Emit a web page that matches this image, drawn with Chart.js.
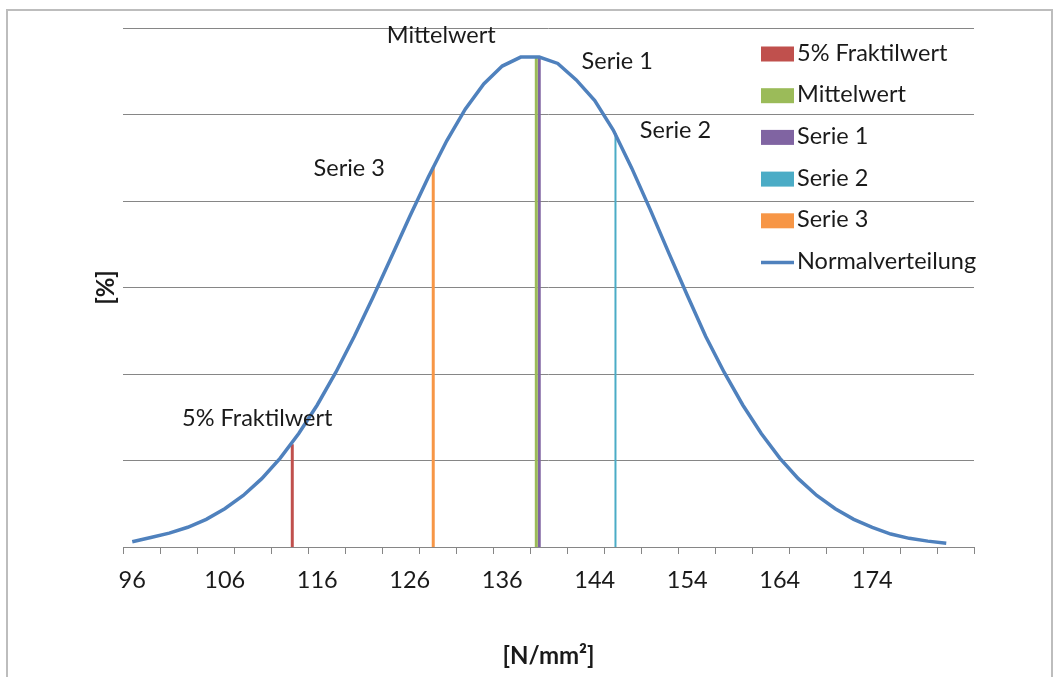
<!DOCTYPE html>
<html>
<head>
<meta charset="utf-8">
<script src="https://cdn.jsdelivr.net/npm/chart.js@4/dist/chart.umd.min.js"></script>
<style>
	html, body { margin: 0; padding: 0; background: #fff; }
	#wrap { position: relative; width: 1058px; height: 677px; }
</style>
</head>
<body>
<div id="wrap"><canvas id="chart"></canvas></div>
<script>
'use strict'

// Normalverteilung in %, ein Wert pro Kategorie (Index 0..44)
const normalverteilung = [
	0.030, 0.055, 0.080, 0.114, 0.160, 0.221, 0.298, 0.395, 0.514, 0.656,
	0.821, 1.009, 1.217, 1.441, 1.675, 1.910, 2.137, 2.348, 2.531, 2.677,
	2.780, 2.832, 2.832, 2.795, 2.700, 2.580, 2.410, 2.190, 1.950, 1.700,
	1.455, 1.217, 1.009, 0.821, 0.656, 0.514, 0.395, 0.298, 0.221, 0.160,
	0.114, 0.075, 0.050, 0.034, 0.022
];
const kategorienAnzahl = 46;
// Beschriftung jede 5. Kategorie
const tickLabels = ['96', '106', '116', '126', '136', '144', '154', '164', '174'];
const tickLabelStep = 5;

// senkrechte Linien: Lage (Kategorie-Index) und Höhe in %
const markerNamen = ['5% Fraktilwert', 'Mittelwert', 'Serie 1', 'Serie 2', 'Serie 3'];
const markerPos = [8.65, 21.84, 22.0, 26.12, 16.27];
const markerHoehe = [0.594, 2.834, 2.834, 2.393, 2.196];

const markerFarben = ['#C0504D', '#9BBB59', '#8064A2', '#4BACC6', '#F79646'];
const markerBreite = [3, 3, 3, 2, 3];
// Beschriftung neben der Linienspitze (dx, dy in px)
const markerLabelOffset = [[-35, -26], [-95, -21], [78, 5], [60, -3], [-84, 1]];

const kurvenFarbe = '#4F81BD';
const textFarbe = '#1a1a1a';
const gitterFarbe = '#868686';
const schrift = 'Lato, "Open Sans", sans-serif';
const schriftGroesse = 23.5;

Chart.defaults.font.family = schrift;
Chart.defaults.font.size = schriftGroesse;
Chart.defaults.color = textFarbe;

let datasets = markerNamen.map((name, i) => {
	return {
		type: 'line',
		label: name,
		data: [{x: markerPos[i], y: 0}, {x: markerPos[i], y: markerHoehe[i]}],
		borderColor: markerFarben[i],
		backgroundColor: markerFarben[i],
		borderWidth: markerBreite[i],
		pointRadius: 0,
		order: 1
	};
});
datasets.push({
	type: 'line',
	label: 'Normalverteilung',
	data: normalverteilung.map((v, i) => ({x: i, y: v})),
	borderColor: kurvenFarbe,
	backgroundColor: kurvenFarbe,
	borderWidth: 3.5,
	pointRadius: 0,
	tension: 0,
	order: 0
});

let rahmenPlugin = {
	id: 'rahmen',
	beforeDraw: (chart) => {
		let ctx = chart.ctx;
		ctx.save();
		ctx.fillStyle = '#fff';
		ctx.fillRect(0, 0, chart.width, chart.height);
		ctx.strokeStyle = '#bdbdbd';
		ctx.lineWidth = 2;
		ctx.strokeRect(7, 10, 1045, 700);
		ctx.restore();
	}
};

let markerLabelPlugin = {
	id: 'markerLabels',
	afterDatasetsDraw: (chart) => {
		let ctx = chart.ctx;
		ctx.save();
		ctx.font = schriftGroesse + 'px ' + schrift;
		ctx.fillStyle = textFarbe;
		ctx.textAlign = 'center';
		ctx.textBaseline = 'middle';
		markerNamen.forEach((name, i) => {
			let top = chart.getDatasetMeta(i).data[1];
			ctx.fillText(name, top.x + markerLabelOffset[i][0], top.y + markerLabelOffset[i][1]);
		});
		ctx.restore();
	}
};

// Legende im Diagrammbereich wie im Original
let legendePlugin = {
	id: 'legende',
	afterDraw: (chart) => {
		let ctx = chart.ctx;
		let x = 761, y = 54, step = 41.7;
		ctx.save();
		ctx.font = schriftGroesse + 'px ' + schrift;
		ctx.textBaseline = 'middle';
		ctx.textAlign = 'left';
		chart.data.datasets.forEach((ds, i) => {
			let cy = y + i * step;
			if (ds.label === 'Normalverteilung') {
				ctx.strokeStyle = ds.borderColor;
				ctx.lineWidth = 3.5;
				ctx.beginPath();
				ctx.moveTo(x, cy);
				ctx.lineTo(x + 33, cy);
				ctx.stroke();
			} else {
				ctx.fillStyle = ds.borderColor;
				ctx.fillRect(x, cy - 7.5, 33, 15);
			}
			ctx.fillStyle = textFarbe;
			ctx.fillText(ds.label, x + 36, cy - 1);
		});
		ctx.restore();
	}
};

new Chart(document.getElementById('chart'), {
	type: 'line',
	data: {datasets: datasets},
	options: {
		responsive: true,
		maintainAspectRatio: false,
		animation: false,
		layout: {padding: {top: 28, right: 84, bottom: 0, left: 0}},
		plugins: {
			legend: {display: false},
			tooltip: {enabled: false}
		},
		scales: {
			x: {
				type: 'linear',
				min: -0.5,
				max: kategorienAnzahl - 0.5,
				afterBuildTicks: (scale) => {
					let ticks = [];
					// Teilstriche alle 2 Kategorien, Beschriftung alle 5
					for (let v = -0.5; v <= kategorienAnzahl - 0.5; v += 2) {
						ticks.push({value: v});
					}
					tickLabels.forEach((t, k) => ticks.push({value: k * tickLabelStep}));
					ticks.sort((a, b) => a.value - b.value);
					scale.ticks = ticks;
				},
				afterFit: (scale) => { scale.height = 130; },
				grid: {
					drawOnChartArea: false,
					tickLength: 7,
					lineWidth: 1,
					color: (c) => (c.tick && Number.isInteger(c.tick.value)) ? 'rgba(0,0,0,0)' : gitterFarbe
				},
				border: {color: gitterFarbe, width: 1},
				ticks: {
					autoSkip: false,
					maxRotation: 0,
					padding: 12,
					color: textFarbe,
					font: {size: schriftGroesse},
					callback: (value) => {
						let k = value / tickLabelStep;
						return Number.isInteger(k) && k < tickLabels.length ? tickLabels[k] : '';
					}
				},
				title: {
					display: true,
					text: '[N/mm²]',
					color: textFarbe,
					font: {size: 24, weight: 'bold'},
					padding: {top: 0, bottom: 6}
				}
			},
			y: {
				min: 0,
				max: 3,
				afterFit: (scale) => { scale.width = 123; },
				ticks: {display: false, stepSize: 0.5},
				grid: {color: gitterFarbe, lineWidth: 1, drawTicks: false},
				border: {display: false},
				title: {
					display: true,
					text: '[%]',
					color: textFarbe,
					font: {size: 24, weight: 'bold'},
					padding: {top: 92, bottom: 0}
				}
			}
		}
	},
	plugins: [rahmenPlugin, markerLabelPlugin, legendePlugin]
});
</script>
</body>
</html>
